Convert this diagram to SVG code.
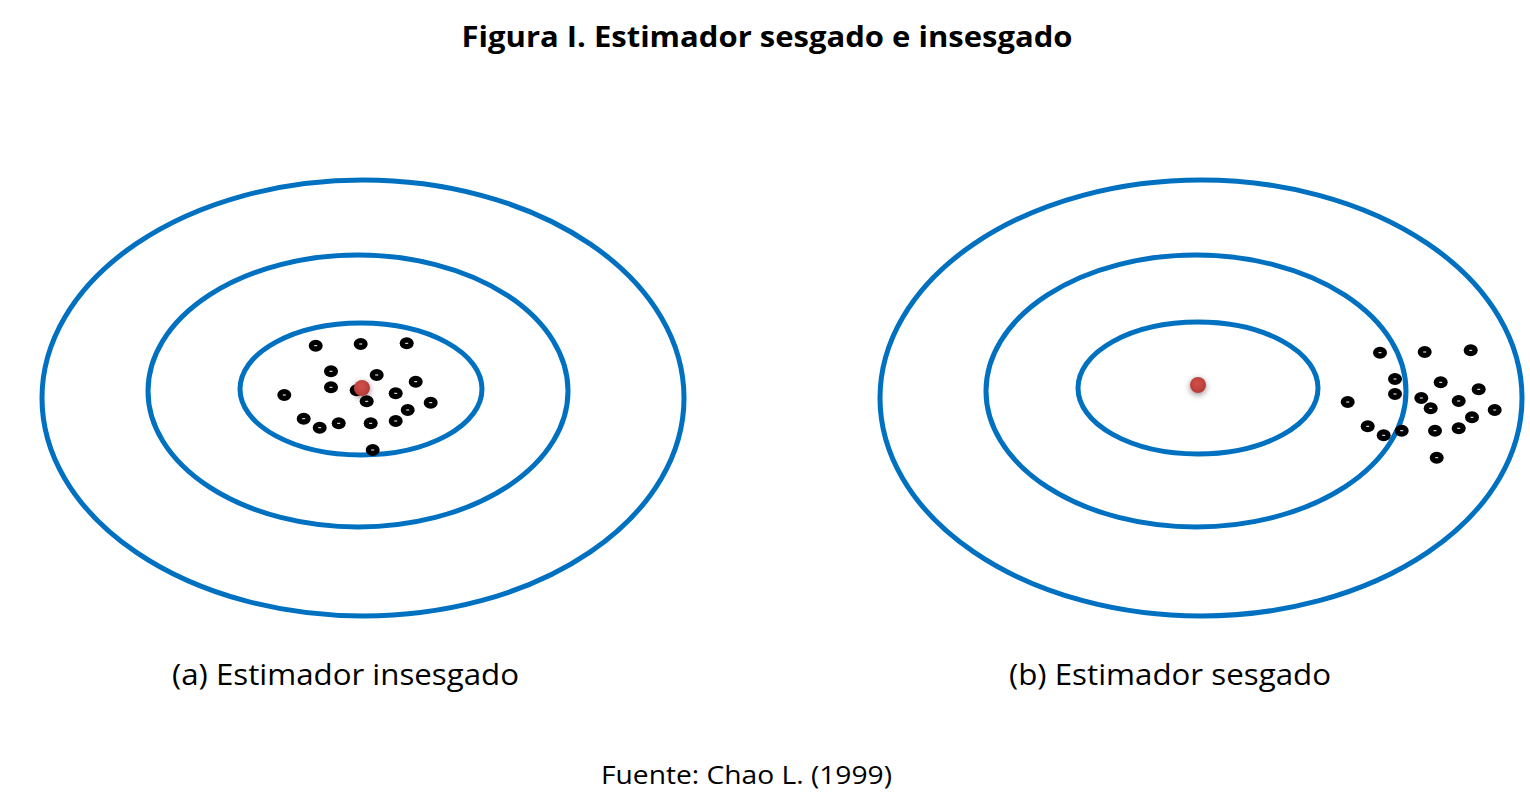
<svg xmlns="http://www.w3.org/2000/svg" xmlns:xlink="http://www.w3.org/1999/xlink" width="1530" height="803" viewBox="0 0 1530 803">
<style>
.ring{fill:none;stroke:#0070C0;stroke-width:5}
.t{font-family:"Open Sans","Liberation Sans",sans-serif;fill:#000}
</style>
<defs>
<g id="dot"><ellipse cx="0" cy="0" rx="7" ry="6" fill="#000"/><rect x="-1.5" y="-0.5" width="3" height="1" fill="#fff"/></g>
<filter id="sh" x="-1" y="-1" width="3" height="3"><feGaussianBlur in="SourceAlpha" stdDeviation="3"/><feOffset dx="0" dy="2"/><feComponentTransfer><feFuncA type="linear" slope="0.45"/></feComponentTransfer><feMerge><feMergeNode/><feMergeNode in="SourceGraphic"/></feMerge></filter>
<radialGradient id="rg" cx="0.45" cy="0.4" r="0.6"><stop offset="0" stop-color="#d0504b"/><stop offset="1" stop-color="#b53a36"/></radialGradient>
</defs>
<rect width="1530" height="803" fill="#fff"/>
<text class="t" x="767" y="47" font-size="28" font-weight="bold" text-anchor="middle" textLength="611" lengthAdjust="spacingAndGlyphs">Figura I. Estimador sesgado e insesgado</text>
<g id="targetA">
<ellipse class="ring" cx="363" cy="398" rx="321" ry="218"/>
<ellipse class="ring" cx="358" cy="391" rx="210" ry="136"/>
<ellipse class="ring" cx="361" cy="389" rx="121" ry="66"/>
</g>
<g id="dotsA">
<use xlink:href="#dot" x="315.7" y="345.7"/><use xlink:href="#dot" x="360.7" y="344"/><use xlink:href="#dot" x="406.7" y="343.3"/>
<use xlink:href="#dot" x="331" y="371.3"/><use xlink:href="#dot" x="376.7" y="375"/><use xlink:href="#dot" x="415.7" y="381.7"/>
<use xlink:href="#dot" x="331" y="387.3"/><use xlink:href="#dot" x="356.7" y="390.3"/><use xlink:href="#dot" x="284.3" y="395"/>
<use xlink:href="#dot" x="395.7" y="393.3"/><use xlink:href="#dot" x="366.7" y="401.3"/><use xlink:href="#dot" x="430.7" y="402.7"/>
<use xlink:href="#dot" x="407.7" y="410"/><use xlink:href="#dot" x="303.7" y="418.7"/><use xlink:href="#dot" x="319.7" y="427.7"/>
<use xlink:href="#dot" x="338.7" y="423.3"/><use xlink:href="#dot" x="370.7" y="423.3"/><use xlink:href="#dot" x="395.7" y="421"/>
<use xlink:href="#dot" x="372.7" y="450"/>
<circle cx="362" cy="388" r="8" fill="url(#rg)" filter="url(#sh)"/>
</g>
<g id="targetB">
<ellipse class="ring" cx="1201" cy="398" rx="321" ry="218"/>
<ellipse class="ring" cx="1196" cy="391" rx="210" ry="136"/>
<ellipse class="ring" cx="1198" cy="388" rx="120" ry="66"/>
</g>
<g id="dotsB">
<circle cx="1198" cy="385" r="8" fill="url(#rg)" filter="url(#sh)"/>
<use xlink:href="#dot" x="1380" y="352.7"/><use xlink:href="#dot" x="1424.7" y="352"/><use xlink:href="#dot" x="1470.7" y="350.3"/>
<use xlink:href="#dot" x="1395" y="379"/><use xlink:href="#dot" x="1440.7" y="382.3"/><use xlink:href="#dot" x="1478.7" y="389.3"/>
<use xlink:href="#dot" x="1395" y="394"/><use xlink:href="#dot" x="1421.3" y="398"/><use xlink:href="#dot" x="1347.7" y="402"/>
<use xlink:href="#dot" x="1458.7" y="401"/><use xlink:href="#dot" x="1430.7" y="408.3"/><use xlink:href="#dot" x="1494.7" y="410"/>
<use xlink:href="#dot" x="1472" y="417.3"/><use xlink:href="#dot" x="1367.7" y="426.3"/><use xlink:href="#dot" x="1383.7" y="435.3"/>
<use xlink:href="#dot" x="1401.7" y="430.7"/><use xlink:href="#dot" x="1435" y="430.7"/><use xlink:href="#dot" x="1458.7" y="428.3"/>
<use xlink:href="#dot" x="1436.7" y="457.7"/>
</g>
<text class="t" x="345.5" y="685" font-size="29" text-anchor="middle" textLength="347" lengthAdjust="spacingAndGlyphs">(a) Estimador insesgado</text>
<text class="t" x="1170" y="685" font-size="29" text-anchor="middle" textLength="322" lengthAdjust="spacingAndGlyphs">(b) Estimador sesgado</text>
<text class="t" x="746.5" y="784" font-size="25" text-anchor="middle" textLength="291" lengthAdjust="spacingAndGlyphs">Fuente: Chao L. (1999)</text>
</svg>
